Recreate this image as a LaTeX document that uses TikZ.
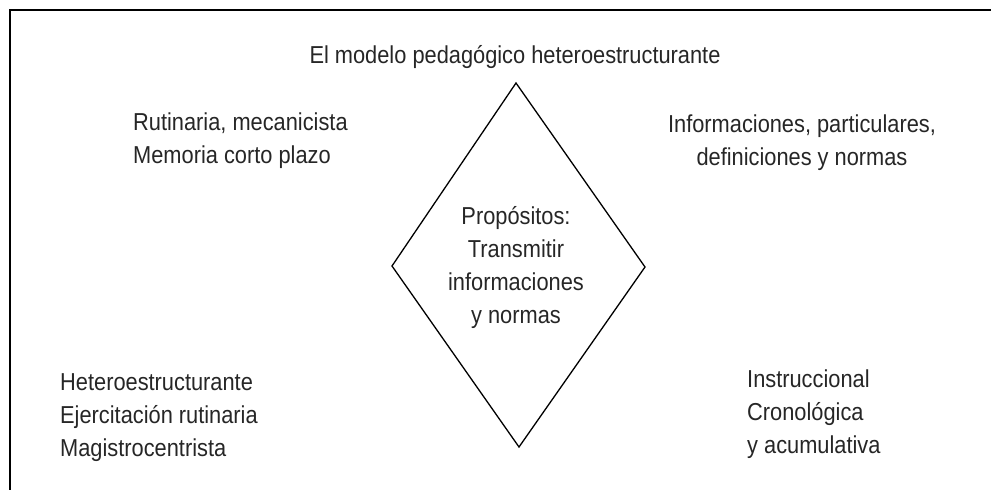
\documentclass[tikz,border=0pt]{standalone}
\usepackage{fontspec}
\setmainfont{Liberation Sans}[FakeStretch=0.89]
\begin{document}
\begin{tikzpicture}[x=1pt,y=-1pt,
  lbl/.style={inner sep=0pt, font=\fontsize{24.5}{33}\selectfont, text=black!85},
  frame/.style={line width=2pt, black},
  diam/.style={line width=1.3pt, black, line join=miter}]
\useasboundingbox (0,0) rectangle (991,490);
\draw[frame] (991,10) -- (10,10) -- (10,490);
\coordinate (dt) at (516,83);
\coordinate (dr) at (645,267);
\coordinate (db) at (519,447);
\coordinate (dl) at (392,266);
\draw[diam] (dt) -- (dr) -- (db) -- (dl) -- cycle;
\node[lbl, anchor=base] (title) at (515,63) {El modelo pedagógico heteroestructurante};
\node[lbl, anchor=base west, align=left] (tl) at (133,163) {Rutinaria, mecanicista\\Memoria corto plazo};
\node[lbl, anchor=base, align=center] (tr) at (802,165) {Informaciones, particulares,\\definiciones y normas};
\node[lbl, anchor=base, align=center] (ctr) at (516,323) {Propósitos:\\Transmitir\\informaciones\\y normas};
\node[lbl, anchor=base west, align=left] (bl) at (60,456) {Heteroestructurante\\Ejercitación rutinaria\\Magistrocentrista};
\node[lbl, anchor=base west, align=left] (br) at (747,453) {Instruccional\\Cronológica\\y acumulativa};
\end{tikzpicture}
\end{document}
